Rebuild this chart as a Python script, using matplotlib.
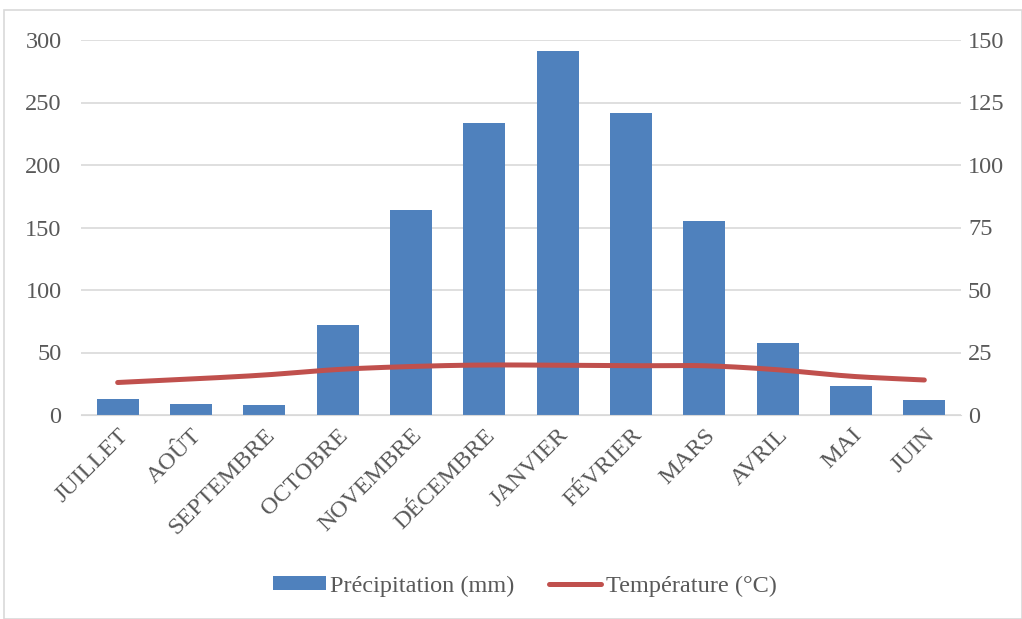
import numpy as np
import matplotlib
matplotlib.use("Agg")
import matplotlib.pyplot as plt
from matplotlib.patches import Rectangle

months = ["JUILLET", "AOÛT", "SEPTEMBRE", "OCTOBRE", "NOVEMBRE", "DÉCEMBRE",
          "JANVIER", "FÉVRIER", "MARS", "AVRIL", "MAI", "JUIN"]
precip = [13, 9, 8, 72, 164, 234, 291, 242, 155, 58, 23, 12]
temp = [13.0, 14.4, 16.0, 18.2, 19.4, 20.0, 19.9, 19.7, 19.7, 18.1, 15.5, 14.0]

BAR = "#4F81BD"
LINE = "#C0504D"
TXT = "#595959"
GRID = "#D9D9D9"
FS = 17.5

plt.rcParams["font.family"] = ["Liberation Serif", "DejaVu Serif"]
plt.rcParams["font.size"] = FS


def smooth(x, y, n=20):
    # catmull-rom curve through the points, like Excel's smoothed line
    x = np.asarray(x, float)
    y = np.asarray(y, float)
    px = np.concatenate([[2 * x[0] - x[1]], x, [2 * x[-1] - x[-2]]])
    py = np.concatenate([[2 * y[0] - y[1]], y, [2 * y[-1] - y[-2]]])
    xs, ys = [], []
    t = np.linspace(0, 1, n)
    for i in range(1, len(px) - 2):
        for p, out in ((px, xs), (py, ys)):
            p0, p1, p2, p3 = p[i - 1], p[i], p[i + 1], p[i + 2]
            out.extend(0.5 * ((2 * p1) + (-p0 + p2) * t
                              + (2 * p0 - 5 * p1 + 4 * p2 - p3) * t ** 2
                              + (-p0 + 3 * p1 - 3 * p2 + p3) * t ** 3))
    return np.array(xs), np.array(ys)


fig = plt.figure(figsize=(10.22, 6.19), dpi=100)
ax = fig.add_axes([81 / 1022, 1 - 415 / 619, 880 / 1022, 375 / 619])
ax2 = ax.twinx()

x = np.arange(len(months))
bars = ax.bar(x, precip, width=0.57, color=BAR, zorder=2, label="Précipitation (mm)")
sx, sy = smooth(x, temp)
line, = ax2.plot(sx, sy, color=LINE, lw=3.6, solid_capstyle="round", label="Température (°C)")

ax.set_xlim(-0.5, len(months) - 0.5)
ax.set_ylim(0, 300)
ax2.set_ylim(0, 150)
ax.set_yticks(range(0, 301, 50))
ax2.set_yticks(range(0, 151, 25))
ax.yaxis.grid(True, color=GRID, lw=1.2, zorder=0)
ax.set_axisbelow(True)

ax.set_xticks(x)
ax.set_xticklabels(months, rotation=45, ha="right", rotation_mode="anchor", color=TXT)
for a in (ax, ax2):
    for s in a.spines.values():
        s.set_visible(False)
    a.tick_params(length=0, colors=TXT, labelsize=FS)
ax.spines["bottom"].set_visible(True)
ax.spines["bottom"].set_color(GRID)
ax.tick_params(axis="x", pad=7)
ax.tick_params(axis="y", pad=14)
ax2.tick_params(axis="y", pad=5)

fig.legend([bars, line], ["Précipitation (mm)", "Température (°C)"],
           loc="center", bbox_to_anchor=(525 / 1022, 1 - 586 / 619), ncol=2,
           frameon=False, fontsize=FS, labelcolor=TXT, handlelength=2.15,
           handleheight=0.5, handletextpad=0.2, columnspacing=1.4)

fig.patches.append(Rectangle((4 / 1022, 0), 1 - 4 / 1022, 1 - 10 / 619,
                             transform=fig.transFigure, fill=False,
                             edgecolor=GRID, lw=1.2))

fig.savefig("out.png", dpi=100)
